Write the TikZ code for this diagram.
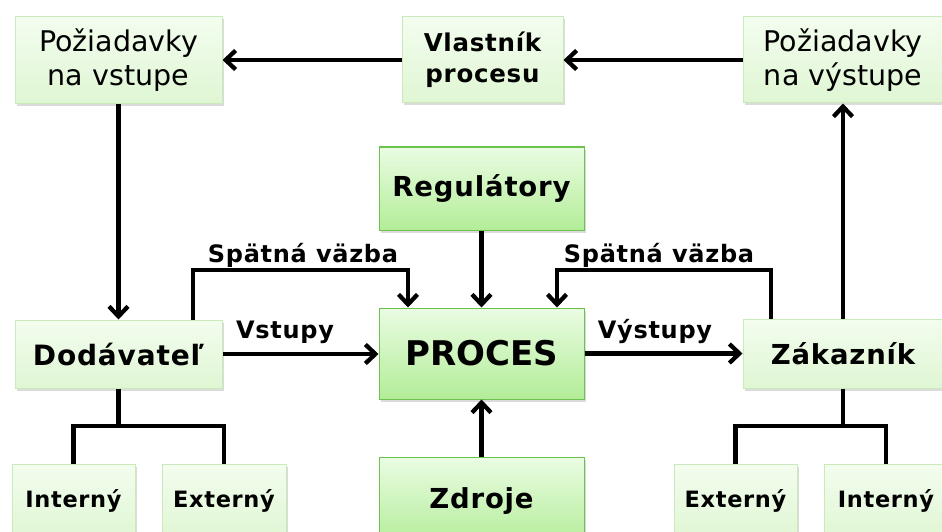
\documentclass[tikz,border=0pt]{standalone}
\usepackage{fontspec}
\setmainfont{DejaVu Sans}
\newfontfamily\spacedbold[LetterSpace=3]{DejaVu Sans Bold}
\usetikzlibrary{arrows.meta,shadows}
\definecolor{lighttop}{HTML}{F3FDEF}
\definecolor{lightbot}{HTML}{DFF6D3}
\definecolor{lightborder}{HTML}{CBEABC}
\definecolor{strongtop}{HTML}{EAFCE3}
\definecolor{strongbot}{HTML}{B3ED98}
\definecolor{strongborder}{HTML}{6CC04C}
\begin{document}
\begin{tikzpicture}[x=1pt,y=-1pt,
  boxbase/.style={line width=1pt, inner sep=0pt, align=center,
    drop shadow={opacity=0.28, shadow xshift=1.5pt, shadow yshift=-2.5pt}},
  lightbox/.style={boxbase, draw=lightborder, top color=lighttop, bottom color=lightbot},
  strongbox/.style={boxbase, draw=strongborder, top color=strongtop, bottom color=strongbot},
  conn/.style={line width=4.3pt, -{Straight Barb[length=10pt,width=19pt]}},
  plainline/.style={line width=4.3pt},
  lbl/.style={font=\fontsize{24}{28}\spacedbold, inner sep=0pt},
  regtext/.style={font=\fontsize{28.5}{34}\selectfont},
  bt/.style={font=\fontsize{#1}{#1}\spacedbold},
]
\useasboundingbox (0,0) rectangle (942,532);
\fill[white] (0,0) rectangle (942,532);

% top row
\node[lightbox, regtext, minimum width=207pt, minimum height=87pt] (reqin) at (118.5,60.5) {Požiadavky\\na vstupe};
\node[lightbox, font=\fontsize{24.5}{31}\spacedbold, minimum width=161pt, minimum height=86pt] (owner) at (482.5,60) {Vlastník\\procesu};
\node[lightbox, regtext, minimum width=200pt, minimum height=86pt] (reqout) at (843,60) {Požiadavky\\na výstupe};

% middle
\node[strongbox, bt=27.5, minimum width=205pt, minimum height=83pt] (reg) at (481.5,188.5) {Regulátory};
\node[strongbox, font=\fontsize{34}{40}\selectfont\bfseries, minimum width=205pt, minimum height=91pt] (proc) at (481.5,353.5) {PROCES};
\node[lightbox, bt=28, minimum width=207pt, minimum height=68pt] (dod) at (118.5,354) {Dodávateľ};
\node[lightbox, bt=27.5, minimum width=200pt, minimum height=69pt] (zak) at (843,353.5) {Zákazník};

% bottom
\node[strongbox, bt=27.5, minimum width=205pt, minimum height=88pt] (zdroje) at (481.5,501) {Zdroje};
\node[lightbox, bt=22.5, minimum width=123pt, minimum height=74pt] (dint) at (73.5,501) {Interný};
\node[lightbox, bt=22.5, minimum width=124pt, minimum height=74pt] (dext) at (224,501) {Externý};
\node[lightbox, bt=22.5, minimum width=123pt, minimum height=74pt] (zext) at (735.5,501) {Externý};
\node[lightbox, bt=22.5, minimum width=123pt, minimum height=74pt] (zint) at (886,501) {Interný};

% top arrows
\draw[conn] (owner.west) -- (owner.west -| reqin.east);
\draw[conn] (reqout.west) -- (reqout.west -| owner.east);
\draw[conn] (reqin.south) -- (dod.north);
\draw[conn] (zak.north) -- (reqout.south);

% process arrows
\draw[conn] (reg.south) -- (proc.north);
\draw[conn] (zdroje.north) -- (proc.south);
\draw[conn] (dod.east) -- (dod.east -| proc.west);
\draw[conn] (proc.east) -- (proc.east -| zak.west);

% feedback loops
\coordinate (fbL) at (193,270);
\coordinate (fbLend) at (408,270);
\coordinate (fbR) at (771,270);
\coordinate (fbRend) at (557,270);
\draw[conn] (dod.north -| fbL) -- (fbL) -- (fbLend) -- (fbLend |- proc.north);
\draw[conn] (zak.north -| fbR) -- (fbR) -- (fbRend) -- (fbRend |- proc.north);

% trees
\coordinate (dodj) at (118.5,426);
\coordinate (zakj) at (843,426);
\draw[plainline] (dod.south) -- (dodj);
\draw[plainline] (dint.north) |- (dodj) -| (dext.north);
\draw[plainline] (zak.south) -- (zakj);
\draw[plainline] (zext.north) |- (zakj) -| (zint.north);

% labels
\node[lbl, anchor=base] (vstupy) at (285,338) {Vstupy};
\node[lbl, anchor=base] (vystupy) at (655,338) {Výstupy};
\node[lbl, anchor=base] (fbLlabel) at (303,262) {Spätná väzba};
\node[lbl, anchor=base] (fbRlabel) at (659,262) {Spätná väzba};
\end{tikzpicture}
\end{document}
